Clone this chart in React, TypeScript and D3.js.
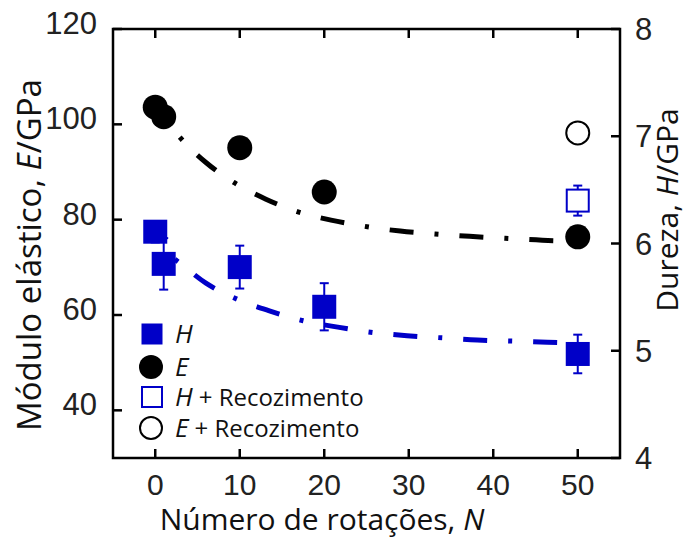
import React from "react";
import * as d3 from "d3";

// ---- data ----
const xTicks = [0, 10, 20, 30, 40, 50];
const eTicks = [40, 60, 80, 100, 120];
const hTicks = [4, 5, 6, 7, 8];

// Elastic modulus E (GPa), filled circles
const eN = [0, 1, 10, 20, 50];
const eVals = [103.6, 101.6, 95.1, 85.8, 76.4];
// E after annealing
const eAnnN = [50];
const eAnnVals = [98.2];

// Hardness H (GPa), filled squares with error bars
const hN = [0, 1, 10, 20, 50];
const hVals = [6.11, 5.81, 5.78, 5.41, 4.97];
const hErr = [0.1, 0.24, 0.2, 0.22, 0.18];
// H after annealing
const hAnnN = [50];
const hAnnVals = [6.4];
const hAnnErr = [0.14];

// fitted trend lines (read as points along the dash-dot curves)
const fitEN = [1, 3, 6, 9.3, 13.1, 16.8, 20.8, 24.8, 29, 33.1, 37.2, 41.4, 47.1, 50];
const fitEVals = [101.6, 97.1, 92.0, 87.8, 84.3, 81.7, 79.9, 78.6, 77.6, 77.0, 76.5, 76.1, 75.6, 75.5];
const fitHN = [1, 2.7, 6.0, 9.7, 13.6, 17.5, 21.6, 25.8, 29.8, 34.0, 38.1, 42.2, 46.4, 50];
const fitHVals = [5.93, 5.83, 5.63, 5.48, 5.37, 5.28, 5.22, 5.17, 5.14, 5.12, 5.10, 5.09, 5.08, 5.07];

const BLUE = "#0000c8";
const TICK_FONT = "'Liberation Sans', Arial, sans-serif";
const TEXT_FONT = "'Open Sans', 'Noto Sans', sans-serif";

export default function App() {
  const W = 688, H = 538;
  const left = 113, right = 620, top = 29, bottom = 458;
  const x = d3.scaleLinear().domain([-5, 55]).range([left, right]);
  const yE = d3.scaleLinear().domain([30, 120]).range([bottom, top]);
  const yH = d3.scaleLinear().domain([4, 8]).range([bottom, top]);

  const lineE = d3.line<number>().x((_, i) => x(fitEN[i])).y((d) => yE(d)).curve(d3.curveMonotoneX);
  const lineH = d3.line<number>().x((_, i) => x(fitHN[i])).y((d) => yH(d)).curve(d3.curveMonotoneX);

  const tl = 9;
  const sq = 24;
  const r = 12.5;

  return (
    <svg width={W} height={H} style={{ position: "absolute", left: 0, top: 0, background: "#fff" }}>
      <rect width={W} height={H} fill="#fff" />

      {/* fit lines */}
      <path d={lineE(fitEVals) || ""} fill="none" stroke="#000" strokeWidth={5}
        strokeDasharray="24,21,4,21" strokeDashoffset={19} />
      <path d={lineH(fitHVals) || ""} fill="none" stroke={BLUE} strokeWidth={5}
        strokeDasharray="24,21,4,21" strokeDashoffset={31} />

      {/* H error bars */}
      {hN.map((n, i) => (
        <g key={"he" + i} stroke={BLUE} strokeWidth={2}>
          <line x1={x(n)} x2={x(n)} y1={yH(hVals[i] - hErr[i])} y2={yH(hVals[i] + hErr[i])} />
          <line x1={x(n) - 4.5} x2={x(n) + 4.5} y1={yH(hVals[i] - hErr[i])} y2={yH(hVals[i] - hErr[i])} />
          <line x1={x(n) - 4.5} x2={x(n) + 4.5} y1={yH(hVals[i] + hErr[i])} y2={yH(hVals[i] + hErr[i])} />
        </g>
      ))}
      {hAnnN.map((n, i) => (
        <g key={"hae" + i} stroke={BLUE} strokeWidth={2}>
          <line x1={x(n)} x2={x(n)} y1={yH(hAnnVals[i] - hAnnErr[i])} y2={yH(hAnnVals[i] + hAnnErr[i])} />
          <line x1={x(n) - 4.5} x2={x(n) + 4.5} y1={yH(hAnnVals[i] - hAnnErr[i])} y2={yH(hAnnVals[i] - hAnnErr[i])} />
          <line x1={x(n) - 4.5} x2={x(n) + 4.5} y1={yH(hAnnVals[i] + hAnnErr[i])} y2={yH(hAnnVals[i] + hAnnErr[i])} />
        </g>
      ))}

      {/* E circles */}
      {eN.map((n, i) => (
        <circle key={"e" + i} cx={x(n)} cy={yE(eVals[i])} r={r} fill="#000" />
      ))}
      {eAnnN.map((n, i) => (
        <circle key={"ea" + i} cx={x(n)} cy={yE(eAnnVals[i])} r={r - 1} fill="#fff" stroke="#000" strokeWidth={2} />
      ))}

      {/* H squares */}
      {hN.map((n, i) => (
        <rect key={"h" + i} x={x(n) - sq / 2} y={yH(hVals[i]) - sq / 2} width={sq} height={sq} fill={BLUE} />
      ))}
      {hAnnN.map((n, i) => (
        <rect key={"ha" + i} x={x(n) - 11} y={yH(hAnnVals[i]) - 11} width={22} height={22}
          fill="#fff" stroke={BLUE} strokeWidth={2} />
      ))}

      {/* frame */}
      <rect x={left} y={top} width={right - left} height={bottom - top} fill="none" stroke="#000" strokeWidth={2.5} />

      {/* x ticks (bottom and top, inward) */}
      {xTicks.map((t) => (
        <g key={"xt" + t} stroke="#000" strokeWidth={2.5}>
          <line x1={x(t)} x2={x(t)} y1={bottom} y2={bottom - tl} />
          <line x1={x(t)} x2={x(t)} y1={top} y2={top + tl} />
        </g>
      ))}
      {xTicks.map((t) => (
        <text key={"xl" + t} x={x(t)} y={495} textAnchor="middle" fontFamily={TICK_FONT} fontSize={30} fill="#222">
          {t}
        </text>
      ))}

      {/* left ticks */}
      {eTicks.map((t) => (
        <line key={"yt" + t} x1={left} x2={left + tl} y1={yE(t)} y2={yE(t)} stroke="#000" strokeWidth={2.5} />
      ))}
      {eTicks.map((t) => (
        <text key={"yl" + t} x={97} y={yE(t) + 5} textAnchor="end" fontFamily={TICK_FONT} fontSize={31} fill="#222">
          {t}
        </text>
      ))}

      {/* right ticks */}
      {hTicks.map((t) => (
        <line key={"rt" + t} x1={right} x2={right - tl} y1={yH(t)} y2={yH(t)} stroke="#000" strokeWidth={2.5} />
      ))}
      {hTicks.map((t) => (
        <text key={"rl" + t} x={635} y={yH(t) + 11} textAnchor="start" fontFamily={TICK_FONT} fontSize={31} fill="#222">
          {t}
        </text>
      ))}

      {/* axis titles */}
      <text x={322} y={530} textAnchor="middle" fontFamily={TEXT_FONT} fontSize={30} fill="#111">
        Número de rotações, <tspan fontStyle="italic">N</tspan>
      </text>
      <text transform="translate(41,255) rotate(-90)" textAnchor="middle" fontFamily={TEXT_FONT} fontSize={33} fill="#111">
        Módulo elástico, <tspan fontStyle="italic">E</tspan>/GPa
      </text>
      <text transform="translate(678,210) rotate(-90)" textAnchor="middle" fontFamily={TEXT_FONT} fontSize={30} fill="#111">
        Dureza, <tspan fontStyle="italic">H</tspan>/GPa
      </text>

      {/* legend */}
      <g>
        <rect x={152 - 10.5} y={334 - 10.5} width={21} height={21} fill={BLUE} />
        <text x={175} y={343} fontFamily={TEXT_FONT} fontSize={26} fontStyle="italic" fill="#111">H</text>

        <circle cx={151} cy={367} r={12} fill="#000" />
        <text x={175} y={376} fontFamily={TEXT_FONT} fontSize={26} fontStyle="italic" fill="#111">E</text>

        <rect x={152 - 10} y={397 - 10} width={20} height={20} fill="#fff" stroke={BLUE} strokeWidth={2} />
        <text x={175} y={406} fontFamily={TEXT_FONT} fontSize={26} fill="#111">
          <tspan fontStyle="italic">H</tspan>
          <tspan fontSize={24} dx={6}>+ Recozimento</tspan>
        </text>

        <circle cx={151} cy={428} r={11} fill="#fff" stroke="#000" strokeWidth={2} />
        <text x={175} y={437} fontFamily={TEXT_FONT} fontSize={26} fill="#111">
          <tspan fontStyle="italic">E</tspan>
          <tspan fontSize={24} dx={6}>+ Recozimento</tspan>
        </text>
      </g>
    </svg>
  );
}
